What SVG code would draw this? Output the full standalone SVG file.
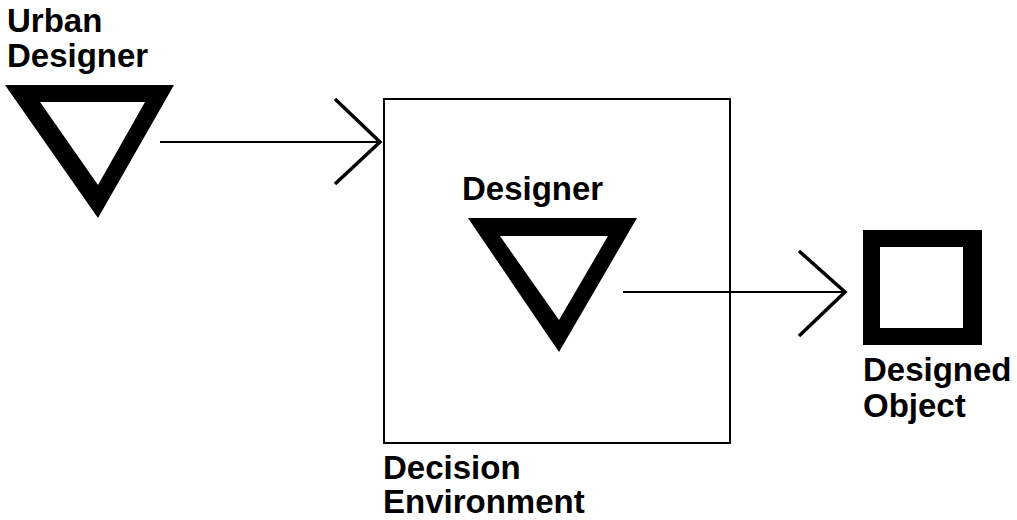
<svg xmlns="http://www.w3.org/2000/svg" width="1017" height="520" viewBox="0 0 1017 520">
<style>
.lbl{font-family:"Liberation Sans",Arial,sans-serif;font-weight:bold;font-size:33px;fill:#000}
.tri{fill:#000;fill-rule:evenodd}
.conn{stroke:#000;stroke-width:2;fill:none}
.head{stroke:#000;stroke-width:3.5;fill:none}
</style>
<rect width="1017" height="520" fill="#fff"/>
<g id="urban-designer">
<path class="tri" d="M5,85 L174,85 L98,218 Z M40,102 L98,185 L145,102 Z"/>
<text class="lbl" x="7" y="32">Urban</text>
<text class="lbl" x="7" y="67">Designer</text>
</g>
<g id="decision-environment">
<rect x="384" y="99" width="346" height="344" fill="none" stroke="#000" stroke-width="2"/>
<text class="lbl" x="383" y="479">Decision</text>
<text class="lbl" x="383" y="513">Environment</text>
</g>
<g id="designer">
<path class="tri" d="M468,218 L637,218 L559,352 Z M500,236 L559,320 L608,236 Z"/>
<text class="lbl" x="462" y="200">Designer</text>
</g>
<g id="designed-object">
<path class="tri" d="M863,230 L982,230 L982,345 L863,345 Z M880,247 L880,328 L963,328 L963,247 Z"/>
<text class="lbl" x="863" y="381">Designed</text>
<text class="lbl" x="863" y="417">Object</text>
</g>
<g id="connectors">
<line class="conn" x1="160" y1="142" x2="381" y2="142"/>
<polyline class="head" points="335,99 380,142 335,184"/>
<line class="conn" x1="623" y1="292" x2="846" y2="292"/>
<polyline class="head" points="799,251 845,292 799,336"/>
</g>
</svg>
